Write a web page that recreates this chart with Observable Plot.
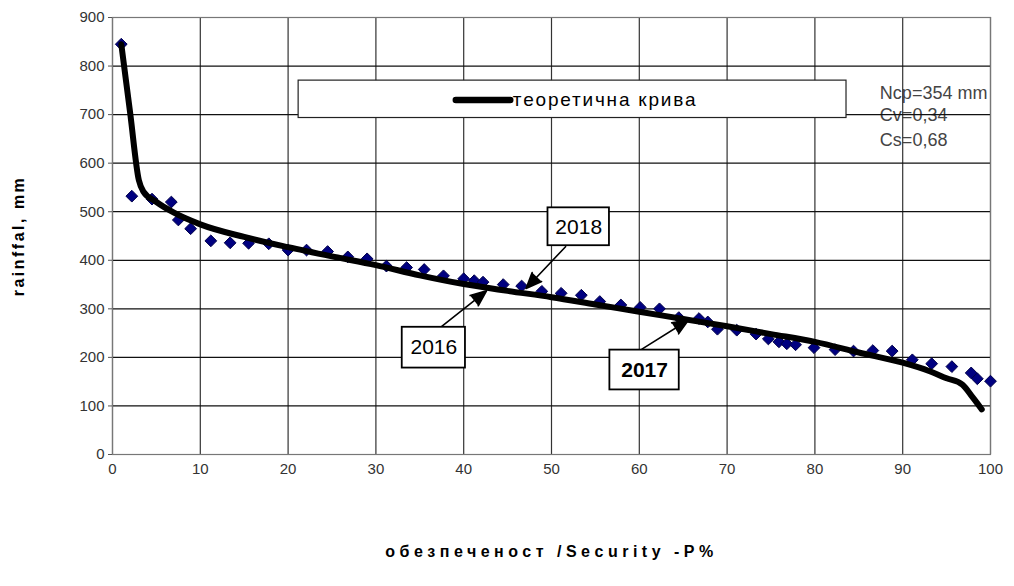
<!DOCTYPE html>
<html>
<head>
<meta charset="utf-8">
<script src="https://cdn.jsdelivr.net/npm/d3@7"></script>
<script src="https://cdn.jsdelivr.net/npm/@observablehq/plot@0.6"></script>
<style>
  html, body { margin: 0; padding: 0; background: #fff; }
  #chart svg { display: block; }
</style>
</head>
<body>
<div id="chart"></div>
<script>
// Observed annual rainfall, ranked by exceedance probability P%
const obsP = [1.0, 2.2, 4.5, 6.7, 7.5, 8.9, 11.2, 13.4, 15.5, 17.8, 20.0, 22.1, 24.5, 26.8,
  29.0, 31.2, 33.5, 35.5, 37.7, 40.0, 41.2, 42.2, 44.5, 46.6, 48.9, 51.1, 53.4, 55.5, 57.9,
  60.1, 62.3, 64.5, 66.8, 67.8, 68.9, 71.1, 73.3, 74.7, 75.9, 76.8, 77.8, 79.9, 82.3, 84.4,
  86.6, 88.8, 91.1, 93.3, 95.6, 97.8, 98.5, 100.0];
const obsRain = [845, 532, 526, 520, 483, 465, 440, 436, 435, 434, 421, 421, 418, 407,
  403, 388, 385, 381, 368, 362, 358, 355, 350, 347, 336, 332, 328, 315, 308,
  303, 300, 282, 280, 273, 258, 256, 248, 238, 232, 228, 226, 220, 216, 213,
  214, 213, 195, 187, 181, 168, 156, 151];

// Theoretical supply curve (теоретична крива)
const curveP = [1, 2, 3, 3.5, 5, 7, 10, 15, 20, 25, 30, 35, 40, 45, 50, 55, 60, 65, 70, 75, 80,
  85, 90, 93, 95, 96.8, 98, 99];
const curveRain = [845, 705, 565, 542, 520, 498, 474, 448, 427, 408, 390, 369, 351, 337, 324, 309,
  294, 279, 264, 248, 232, 210, 189, 172, 157, 144, 117, 93];

// Axis ticks
const xTicks = [0, 10, 20, 30, 40, 50, 60, 70, 80, 90, 100];
const yTicks = [0, 100, 200, 300, 400, 500, 600, 700, 800, 900];

// Texts
const yLabel = "rainffal, mm";
const xLabel = "обезпеченост /Security -P%";
const legendLabel = "теоретична крива";
const statLines = ["Nср=354 mm", "Cv=0,34", "Cs=0,68"];
const yearLabels = ["2016", "2017", "2018"];

const observed = obsP.map((p, i) => ({p, rain: obsRain[i]}));
const curve = curveP.map((p, i) => ({p, rain: curveRain[i]}));

// Callout placement (data units): box centre, box half-size, arrow from/to
const callouts = [
  {label: yearLabels[0], cx: 36.6, cy: 220, hw: 3.6, hh: 42, ax1: 37.5, ay1: 264, ax2: 42.6, ay2: 337, bold: false},
  {label: yearLabels[1], cx: 60.6, cy: 174, hw: 3.95, hh: 41, ax1: 60.3, ay1: 217, ax2: 65.6, ay2: 277, bold: true},
  {label: yearLabels[2], cx: 53.1, cy: 469, hw: 3.5, hh: 39, ax1: 51.6, ay1: 428, ax2: 47.1, ay2: 342, bold: false}
];

const font = "'Liberation Sans', Arial, sans-serif";

// Adds letter spacing to a text mark's group
const spaced = (amount) => function (index, scales, values, dimensions, context, next) {
  const g = next(index, scales, values, dimensions, context);
  g.setAttribute("letter-spacing", amount);
  return g;
};

const chart = Plot.plot({
  width: 1014,
  height: 586,
  marginLeft: 112,
  marginRight: 24,
  marginTop: 17,
  marginBottom: 132,
  style: {fontFamily: font, fontSize: "15px", color: "#000", background: "#fff"},
  x: {domain: [0, 100]},
  y: {domain: [0, 900]},
  marks: [
    // statistics block
    Plot.text(statLines, {
      x: 87.4, y: (d, i) => [743, 698, 647][i], text: d => d,
      textAnchor: "start", fontSize: 18, fill: "#444"
    }),
    // grid and plot-area border
    Plot.gridX(xTicks, {stroke: "#333", strokeOpacity: 1, strokeWidth: 1.2}),
    Plot.gridY(yTicks, {stroke: "#111", strokeOpacity: 1, strokeWidth: 1.2}),
    Plot.frame({stroke: "#777", strokeWidth: 1.2}),
    // legend
    Plot.rect([0], {x1: 21.2, x2: 83.6, y1: 693, y2: 770, fill: "#fff", stroke: "#222", strokeWidth: 1.2}),
    Plot.line([{p: 39.1, rain: 730}, {p: 45.3, rain: 730}], {
      x: "p", y: "rain", stroke: "#000", strokeWidth: 6.5, strokeLinecap: "round"
    }),
    Plot.text([legendLabel], {
      x: 45.6, y: 730, text: d => d, textAnchor: "start", fontSize: 19, fill: "#000",
      render: spaced("1.8")
    }),
    // observed values
    Plot.dot(observed, {
      x: "p", y: "rain", symbol: "diamond2", r: 5.3,
      fill: "#000080", stroke: "#00004a", strokeWidth: 1
    }),
    // theoretical curve
    Plot.line(curve, {
      x: "p", y: "rain", curve: "monotone-x",
      stroke: "#000", strokeWidth: 6, strokeLinejoin: "round", strokeLinecap: "round"
    }),
    // year callouts
    Plot.arrow(callouts, {
      x1: "ax1", y1: "ay1", x2: "ax2", y2: "ay2",
      stroke: "#000", fill: "#000", strokeWidth: 1.6, headLength: 16, headAngle: 45
    }),
    Plot.rect(callouts, {
      x1: d => d.cx - d.hw, x2: d => d.cx + d.hw, y1: d => d.cy - d.hh, y2: d => d.cy + d.hh,
      fill: "#fff", stroke: "#000", strokeWidth: 1.8
    }),
    Plot.text(callouts.filter(d => !d.bold), {
      x: "cx", y: "cy", text: "label", fontSize: 21, fill: "#000"
    }),
    Plot.text(callouts.filter(d => d.bold), {
      x: "cx", y: "cy", text: "label", fontSize: 21, fontWeight: "bold", fill: "#000"
    }),
    // axes
    Plot.axisY(yTicks, {tickSize: 4, tickPadding: 4, label: null, fill: "#333", stroke: "#555"}),
    Plot.axisX(xTicks, {tickSize: 0, tickPadding: 9, label: null, fill: "#333"}),
    Plot.text([yLabel], {
      frameAnchor: "left", dx: -94, rotate: -90, textAnchor: "middle", text: d => d,
      fontWeight: "bold", fontSize: 16, fill: "#000", render: spaced("2.5")
    }),
    Plot.text([xLabel], {
      frameAnchor: "bottom", dy: 102, text: d => d,
      fontWeight: "bold", fontSize: 16, fill: "#000", render: spaced("4.5")
    })
  ]
});

document.getElementById("chart").appendChild(chart);
</script>
</body>
</html>
